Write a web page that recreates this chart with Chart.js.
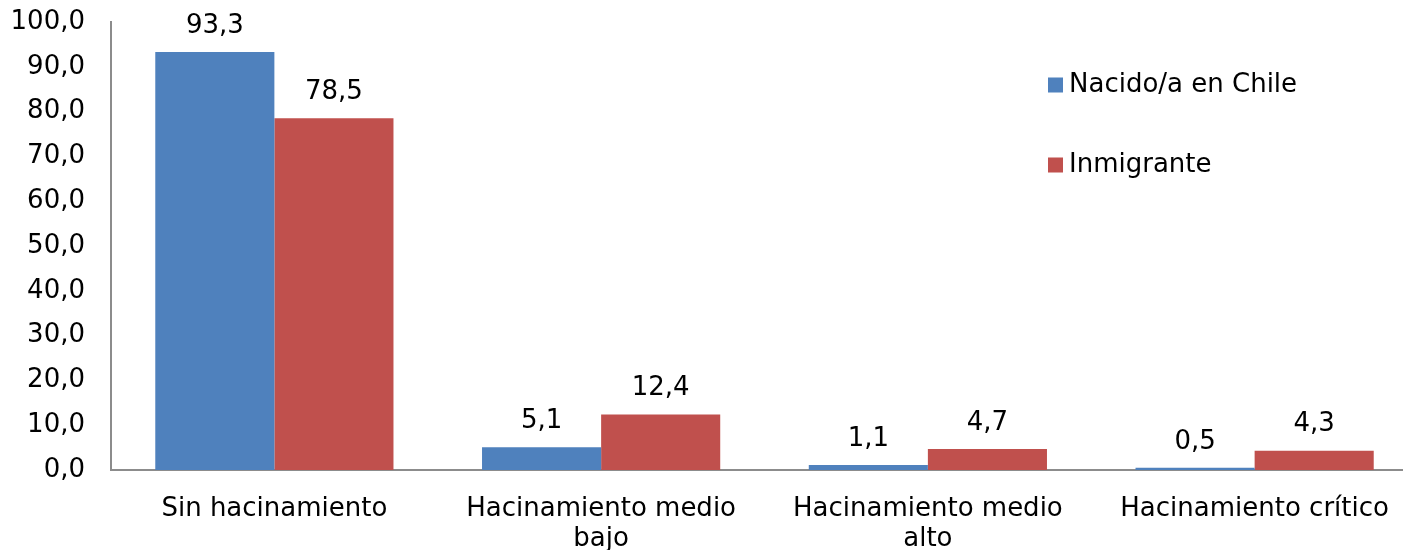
<!DOCTYPE html>
<html>
<head>
<meta charset="utf-8">
<script src="https://cdn.jsdelivr.net/npm/chart.js@4"></script>
<style>
  html, body { margin: 0; padding: 0; background: #fff; overflow: hidden; }
  #wrap { width: 1418px; height: 550px; }
</style>
</head>
<body>
<div id="wrap"><canvas id="chart"></canvas></div>
<script>
// Data
const categories = [
  "Sin hacinamiento",
  ["Hacinamiento medio", "bajo"],
  ["Hacinamiento medio", "alto"],
  "Hacinamiento crítico"
];
const seriesNames = ["Nacido/a en Chile", "Inmigrante"];
const nacidoValues = [93.3, 5.1, 1.1, 0.5];
const inmigranteValues = [78.5, 12.4, 4.7, 4.3];
const seriesColors = ["#4F81BD", "#C0504D"];

const FONT = "'DejaVu Sans', Verdana, sans-serif";
const FONT_SIZE = 26;
const fmt = (v) => Number(v).toFixed(1).replace(".", ",");

// value labels above each bar
const valueLabels = {
  id: "valueLabels",
  afterDatasetsDraw(chart) {
    const ctx = chart.ctx;
    ctx.save();
    ctx.font = FONT_SIZE + "px " + FONT;
    ctx.fillStyle = "#000";
    ctx.textAlign = "center";
    ctx.textBaseline = "bottom";
    chart.data.datasets.forEach((ds, i) => {
      chart.getDatasetMeta(i).data.forEach((bar, j) => {
        ctx.fillText(fmt(ds.data[j]), bar.x, bar.y - 13);
      });
    });
    ctx.restore();
  }
};

// legend drawn over the plot, like the original
const floatLegend = {
  id: "floatLegend",
  afterDraw(chart) {
    const ctx = chart.ctx;
    ctx.save();
    ctx.font = FONT_SIZE + "px " + FONT;
    ctx.textBaseline = "middle";
    ctx.textAlign = "left";
    chart.data.datasets.forEach((ds, i) => {
      const y = 85 + i * 80;
      ctx.fillStyle = ds.backgroundColor;
      ctx.fillRect(1048, y - 7.5, 15, 15);
      ctx.fillStyle = "#000";
      ctx.fillText(ds.label, 1069, y);
    });
    ctx.restore();
  }
};

new Chart(document.getElementById("chart"), {
  type: "bar",
  data: {
    labels: categories,
    datasets: [
      { label: seriesNames[0], data: nacidoValues, backgroundColor: seriesColors[0] },
      { label: seriesNames[1], data: inmigranteValues, backgroundColor: seriesColors[1] }
    ]
  },
  options: {
    responsive: true,
    maintainAspectRatio: false,
    animation: false,
    layout: { padding: { top: 22, right: 0, left: 0, bottom: 0 } },
    datasets: {
      bar: { categoryPercentage: 0.729, barPercentage: 1.0 }
    },
    plugins: {
      legend: { display: false },
      tooltip: { enabled: false }
    },
    scales: {
      x: {
        grid: { display: false, drawTicks: false },
        border: { display: true, color: "#8c8c8c", width: 2 },
        ticks: {
          color: "#000",
          font: { family: FONT, size: FONT_SIZE, lineHeight: 1.15 },
          padding: 24,
          maxRotation: 0,
          autoSkip: false
        },
        afterFit(scale) { scale.height = 80; }
      },
      y: {
        min: 0,
        max: 100,
        grid: { display: false, drawTicks: false },
        border: { display: true, color: "#8c8c8c", width: 2 },
        ticks: {
          stepSize: 10,
          color: "#000",
          font: { family: FONT, size: FONT_SIZE },
          padding: 26,
          callback: (v) => fmt(v)
        },
        afterFit(scale) {
          scale.width = 111;
          scale.paddingTop = 0;
          scale.paddingBottom = 0;
        }
      }
    }
  },
  plugins: [valueLabels, floatLegend]
});
</script>
</body>
</html>
